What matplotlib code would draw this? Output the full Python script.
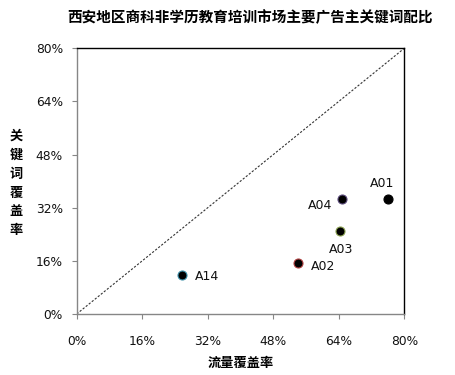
import matplotlib
matplotlib.use("Agg")
import matplotlib.pyplot as plt
from matplotlib.ticker import FixedLocator, FuncFormatter

plt.rcParams['font.family'] = ['Noto Sans CJK SC', 'DejaVu Sans']

title = "西安地区商科非学历教育培训市场主要广告主关键词配比"
xlabel = "流量覆盖率"
ylabel = "关键词覆盖率"

labels = ["A01", "A04", "A03", "A02", "A14"]
traffic = [76.1, 64.7, 64.3, 54.0, 25.7]   # 流量覆盖率 (%)
keyword = [34.5, 34.6, 25.1, 15.3, 11.7]   # 关键词覆盖率 (%)
edge_colors = ["#000000", "#5a4a7a", "#8aa050", "#b04040", "#3c8fa8"]
ticks = [0, 16, 32, 48, 64, 80]

# label offsets in pixels (dx, dy) and alignment
label_pos = {
    "A01": ((-6, 16), "center", "center"),
    "A04": ((-9, -6), "right", "center"),
    "A03": ((1, -19), "center", "center"),
    "A02": ((13, -3), "left", "center"),
    "A14": ((13, -1), "left", "center"),
}

fig = plt.figure(figsize=(4.56, 3.75), dpi=100)
ax = fig.add_axes([0.1682, 0.1627, 0.8866 - 0.1682, 0.8712 - 0.1627])

ax.plot([0, 80], [0, 80], linestyle=(0, (2, 1.5)), color="#333333", linewidth=0.8, zorder=1)

for lab, x, y, ec in zip(labels, traffic, keyword, edge_colors):
    ax.scatter([x], [y], s=42, facecolor="black", edgecolor=ec, linewidth=0.8, zorder=3)
    (dx, dy), ha, va = label_pos[lab]
    ax.annotate(lab, (x, y), xytext=(dx, dy), textcoords="offset pixels",
                ha=ha, va=va, fontsize=9, color="#111111",
                family=['DejaVu Sans'])

ax.set_xlim(0, 80)
ax.set_ylim(0, 80)
ax.xaxis.set_major_locator(FixedLocator(ticks))
ax.yaxis.set_major_locator(FixedLocator(ticks))
fmt = FuncFormatter(lambda v, p: f"{int(round(v))}%")
ax.xaxis.set_major_formatter(fmt)
ax.yaxis.set_major_formatter(fmt)
ax.tick_params(axis="both", direction="out", length=3.6, width=0.8, color="#868686",
               labelsize=8.8, labelcolor="#111111")
for lab in ax.get_xticklabels() + ax.get_yticklabels():
    lab.set_family(['DejaVu Sans'])
ax.tick_params(axis="x", pad=11.5)
ax.tick_params(axis="y", pad=6.3)

ax.spines["left"].set_color("#868686")
ax.spines["bottom"].set_color("#868686")
ax.spines["top"].set_color("black")
ax.spines["right"].set_color("black")
for s in ax.spines.values():
    s.set_linewidth(1.0)

fig.text(250 / 456, 1 - 17 / 375, title, ha="center", va="center",
         fontsize=10.5, fontweight="bold")
fig.text(241 / 456, 1 - 363 / 375, xlabel, ha="center", va="center",
         fontsize=9.5, fontweight="bold")
fig.text(16 / 456, 1 - 183 / 375, "\n".join(ylabel), ha="center", va="center",
         fontsize=9.5, fontweight="bold", linespacing=1.45)

fig.savefig("out.png", dpi=100, facecolor="white")
